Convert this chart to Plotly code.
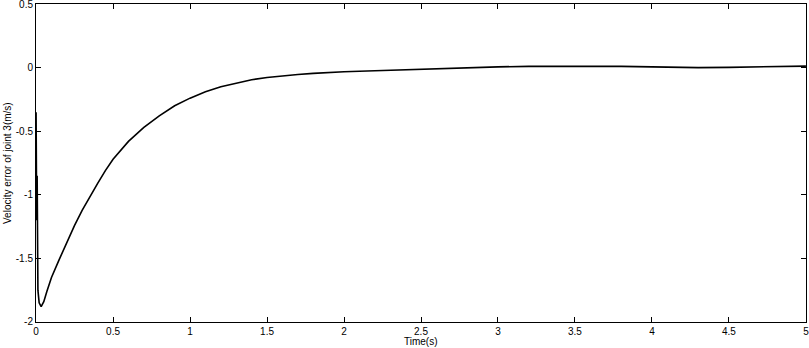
import plotly.graph_objects as go

# Time (s)
t = [0.0, 0.004, 0.007, 0.012, 0.02, 0.033, 0.05, 0.07, 0.1, 0.15, 0.2, 0.25, 0.3, 0.35,
     0.4, 0.45, 0.5, 0.6, 0.7, 0.8, 0.9, 1.0, 1.1, 1.2, 1.3, 1.4, 1.5, 1.6, 1.7, 1.8,
     1.9, 2.0, 2.2, 2.4, 2.6, 2.8, 3.0, 3.2, 3.5, 3.8, 4.1, 4.3, 4.5, 4.8, 5.0]
# Velocity error of joint 3 (m/s)
v = [-0.35, -1.2, -0.85, -1.75, -1.85, -1.88, -1.84, -1.76, -1.65, -1.51, -1.37, -1.24, -1.12, -1.01,
     -0.91, -0.81, -0.72, -0.58, -0.47, -0.38, -0.30, -0.24, -0.19, -0.15, -0.12, -0.095, -0.078, -0.065, -0.054, -0.045,
     -0.038, -0.032, -0.025, -0.016, -0.010, -0.004, 0.006, 0.010, 0.012, 0.010, 0.004, 0.0, 0.002, 0.008, 0.012]

x_ticks = [0, 0.5, 1, 1.5, 2, 2.5, 3, 3.5, 4, 4.5, 5]
x_labels = ["0", "0.5", "1", "1.5", "2", "2.5", "3", "3.5", "4", "4.5", "5"]
y_ticks = [-2, -1.5, -1, -0.5, 0, 0.5]
y_labels = ["-2", "-1.5", "-1", "-0.5", "0", "0.5"]

fig = go.Figure(go.Scatter(x=t, y=v, mode="lines",
                           line=dict(color="black", width=1.6)))

axis_common = dict(showgrid=False, zeroline=False, showline=True, linecolor="black", linewidth=1,
                   mirror="ticks", ticks="inside", ticklen=5, tickcolor="black", tickwidth=1,
                   automargin=False, ticklabeloverflow="allow",
                   tickfont=dict(family="Liberation Sans, Arial", size=10, color="black"))

fig.update_layout(
    width=809, height=348,
    margin=dict(l=36, r=3, t=4, b=26),
    paper_bgcolor="white", plot_bgcolor="white",
    showlegend=False,
    font=dict(family="Liberation Sans, Arial", size=10, color="black"),
    xaxis=dict(range=[-0.0005, 5.0005], tickvals=x_ticks, ticktext=x_labels, **axis_common),
    yaxis=dict(range=[-2.0003, 0.5003], tickvals=y_ticks, ticktext=y_labels, **axis_common),
    annotations=[
        dict(text="Time(s)", xref="paper", yref="paper", x=0.5, y=0, xanchor="center", yanchor="top",
             yshift=-12, showarrow=False, font=dict(size=10)),
        dict(text="Velocity error of joint 3(m/s)", xref="paper", yref="paper", x=0, y=0.5,
             xanchor="center", yanchor="middle", xshift=-29, textangle=-90, showarrow=False,
             font=dict(size=10)),
    ],
)

fig.write_html("out.html",
               config={"displayModeBar": False},
               post_script="document.body.style.margin='0';document.body.style.padding='0';"
                           "document.body.style.overflow='hidden';")
